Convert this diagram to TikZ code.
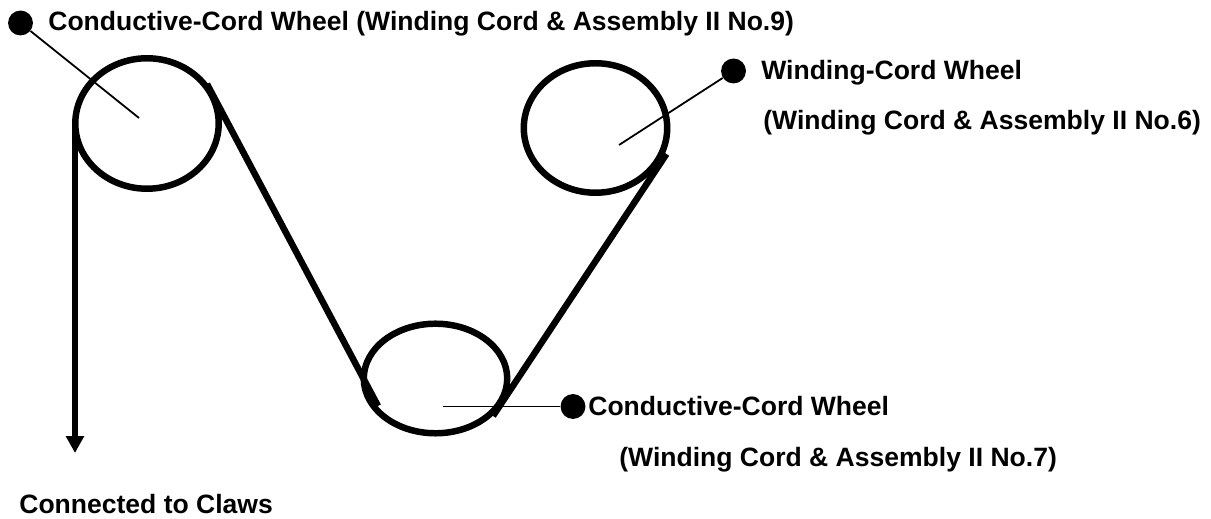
\documentclass[tikz,border=0pt]{standalone}
\usepackage{fontspec}
\setmainfont{Liberation Sans}
\usetikzlibrary{shapes.geometric,arrows.meta}
\tikzset{
  wheel/.style={ellipse, draw, line width=6.5*0.5669pt, inner sep=0pt, outer sep=0pt},
  cord/.style={line width=6.5*0.5669pt},
  leader/.style={line width=1.8*0.5669pt},
  dotmark/.style={circle, fill=black, inner sep=0pt, minimum size=25*0.5669pt},
  tag/.style={anchor=base west, inner sep=0pt, font=\fontsize{15.1}{18}\selectfont\bfseries}
}
\begin{document}
\begin{tikzpicture}[x=0.02cm,y=-0.02cm]

    \useasboundingbox (0,0) rectangle (1211,519);

    % Ruedas
    \node[wheel, minimum width=144*0.5669pt, minimum height=131*0.5669pt] (wheelLeft) at (147,123.5) {};
    \node[wheel, minimum width=144*0.5669pt, minimum height=130*0.5669pt] (wheelRight) at (595.5,128) {};
    \node[wheel, minimum width=144*0.5669pt, minimum height=110*0.5669pt] (wheelLow) at (435.5,378.5) {};

    % Puntos de las etiquetas
    \node[dotmark] (dotLeft) at (20.5,23) {};
    \node[dotmark] (dotRight) at (733.5,71) {};
    \node[dotmark] (dotLow) at (573,406.5) {};

    % Extremos libres
    \coordinate (hubLeft) at (139,118);
    \coordinate (hubRight) at (619,145);
    \coordinate (hubLow) at (443,406.5);
    \coordinate (cordTop) at (75,123);
    \coordinate (cordEnd) at (75,453);
    \coordinate (midStart) at (207,84);
    \coordinate (midEnd) at (378,406);
    \coordinate (rightStart) at (666.5,154);
    \coordinate (rightEnd) at (493,416);

    % Lineas de referencia
    \draw[leader] (dotLeft) -- (hubLeft);
    \draw[leader] (dotRight) -- (hubRight);
    \draw[leader] (dotLow) -- (hubLow);

    % Cordon
    \draw[cord, -{Triangle[length=17*0.5669pt, width=17.5*0.5669pt]}] (cordTop) -- (cordEnd);
    \draw[cord] (midStart) -- (midEnd);
    \draw[cord] (rightStart) -- (rightEnd);

    % Textos
    \node[tag] (textLeft) at (48,31) {Conductive-Cord Wheel (Winding Cord \& Assembly II No.9)};
    \node[tag] (textRight) at (761,79.5) {Winding-Cord Wheel};
    \node[tag] (textRightNo) at (763,129.5) {(Winding Cord \& Assembly II No.6)};
    \node[tag] (textLow) at (588,415.5) {Conductive-Cord Wheel};
    \node[tag] (textLowNo) at (619,466.5) {(Winding Cord \& Assembly II No.7)};
    \node[tag] (textClaws) at (19,513.5) {Connected to Claws};

\end{tikzpicture}
\end{document}
